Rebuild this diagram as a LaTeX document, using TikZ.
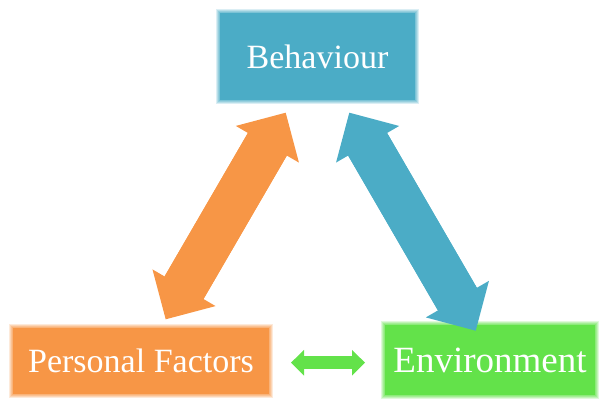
\documentclass[tikz,border=0pt]{standalone}
\usepackage{fontspec}
\setmainfont{Liberation Serif}
\usetikzlibrary{arrows.meta}
\definecolor{behblue}{RGB}{75,172,198}
\definecolor{perorange}{RGB}{247,150,70}
\definecolor{envgreen}{RGB}{99,226,74}
\tikzset{
    factor/.style={
    rectangle,inner sep=0pt,fill=#1,text=white,
    font=\fontsize{34}{40}\selectfont,
    preaction={draw=#1,draw opacity=0.2,line width=8pt},
    preaction={draw=#1,draw opacity=0.25,line width=6pt},
    preaction={draw=#1,draw opacity=0.3,line width=4pt},
    preaction={draw=#1,draw opacity=0.35,line width=2pt}
    },
    bigarrow/.style={
    draw=#1,line width=45pt,
    preaction={draw=#1,line width=45pt,arrows=-,shorten >=31pt,shorten <=31pt},
    >={Triangle[width=73pt,length=36.5pt,line width=0pt]},<->
    },
    smallarrow/.style={
    draw=#1,line width=12.7pt,
    preaction={draw=#1,line width=12.7pt,arrows=-,shorten >=9pt,shorten <=9pt},
    >={Triangle[width=25.7pt,length=13pt,line width=0pt]},<->
    },
}
\begin{document}
\begin{tikzpicture}[x=1pt,y=-1pt]
   \useasboundingbox (0,0) rectangle (600,401);

   %factors
   \node[factor=behblue,minimum width=195pt,minimum height=87pt] (beh) at (317.5,56.5) {Behaviour};
   \node[factor=perorange,minimum width=256pt,minimum height=66pt] (pf) at (141,361) {Personal Factors};
   \node[factor=envgreen,minimum width=210pt,minimum height=70pt,font=\fontsize{37}{44}\selectfont] (env) at (490,360) {Environment};

   %arrow ends
   \coordinate (pfup) at (165.7,319.3);
   \coordinate (behl) at (285.7,112.7);
   \coordinate (behr) at (349.3,112.7);
   \coordinate (envup) at (475.7,330.7);
   \coordinate (pfr) at (291,362.7);
   \coordinate (envl) at (365,362.7);

   \draw[bigarrow=perorange] (pfup) -- (behl);
   \draw[bigarrow=behblue] (behr) -- (envup);
   \draw[smallarrow=envgreen] (pfr) -- (envl);
\end{tikzpicture}
\end{document}
